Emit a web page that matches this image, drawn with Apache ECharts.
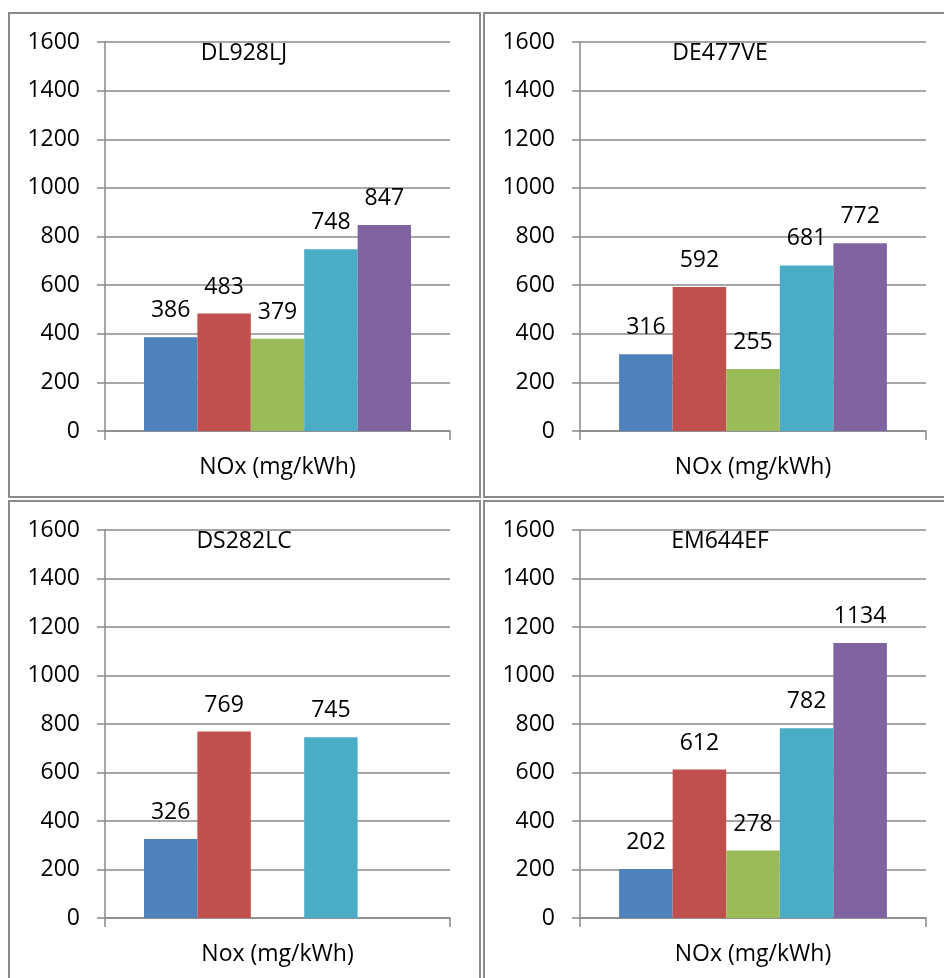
<!DOCTYPE html>
<html>
<head>
<meta charset="utf-8">
<script src="https://cdn.jsdelivr.net/npm/echarts@6/dist/echarts.min.js"></script>
<style>
html,body{margin:0;padding:0;background:#fff;}
#chart{width:944px;height:978px;}
</style>
</head>
<body>
<div id="chart"></div>
<script>
// ---- data ----
const panelTitles = ['DL928LJ', 'DE477VE', 'DS282LC', 'EM644EF'];
const categoryLabels = ['NOx (mg/kWh)', 'NOx (mg/kWh)', 'Nox (mg/kWh)', 'NOx (mg/kWh)'];
const seriesNames = ['Series 1', 'Series 2', 'Series 3', 'Series 4', 'Series 5'];
const valuesDL928LJ = [386, 483, 379, 748, 847];
const valuesDE477VE = [316, 592, 255, 681, 772];
const valuesDS282LC = [326, 769, null, 745, null];
const valuesEM644EF = [202, 612, 278, 782, 1134];
const yTicks = [0, 200, 400, 600, 800, 1000, 1200, 1400, 1600];

const panelValues = [valuesDL928LJ, valuesDE477VE, valuesDS282LC, valuesEM644EF];
const colors = ['#4F81BD', '#C0504D', '#9BBB59', '#4BACC6', '#8064A2'];
const FONT = '"Open Sans", sans-serif';
const gridPos = [
  {left: 105, top: 42, width: 345, height: 389},
  {left: 580, top: 42, width: 346, height: 389},
  {left: 105, top: 530, width: 345, height: 388},
  {left: 580, top: 530, width: 346, height: 388}
];
const panelBoxes = [
  {x: 9, y: 13, w: 471, h: 484},
  {x: 484, y: 13, w: 470, h: 484},
  {x: 9, y: 501, w: 471, h: 490},
  {x: 484, y: 501, w: 470, h: 490}
];
const titlePos = [[244, 53], [720, 53], [244, 541], [720, 541]];
const axisColor = '#8a8a8a';

const grids = [], xAxes = [], yAxes = [], series = [], graphics = [];
panelValues.forEach((vals, p) => {
  grids.push(Object.assign({containLabel: false}, gridPos[p]));
  xAxes.push({
    type: 'category', gridIndex: p, data: [categoryLabels[p]],
    boundaryGap: true,
    axisLine: {show: true, lineStyle: {color: axisColor, width: 1.5}},
    axisTick: {show: true, length: 9, lineStyle: {color: axisColor, width: 1.5}},
    axisLabel: {color: '#000', fontFamily: FONT, fontSize: 23, margin: 25}
  });
  yAxes.push({
    type: 'value', gridIndex: p, min: yTicks[0], max: yTicks[yTicks.length - 1],
    interval: yTicks[1] - yTicks[0],
    axisLine: {show: true, lineStyle: {color: axisColor, width: 1.5}},
    axisTick: {show: true, length: 8, lineStyle: {color: axisColor, width: 1.5}},
    splitLine: {show: true, lineStyle: {color: axisColor, width: 1.5}},
    axisLabel: {color: '#000', fontFamily: FONT, fontSize: 23, margin: 25,
                formatter: v => String(v)}
  });
  vals.forEach((v, s) => {
    series.push({
      type: 'bar', name: seriesNames[s], xAxisIndex: p, yAxisIndex: p,
      data: [v], barGap: '0%', barCategoryGap: '22.6%',
      itemStyle: {color: colors[s]},
      label: {show: v !== null, position: 'top', distance: 15, color: '#000',
               fontFamily: FONT, fontSize: 23},
      animation: false
    });
  });
  const b = panelBoxes[p];
  graphics.push({type: 'rect', shape: {x: b.x, y: b.y, width: b.w, height: b.h},
    style: {fill: null, stroke: axisColor, lineWidth: 2}, z: 0});
  graphics.push({type: 'text', x: titlePos[p][0], y: titlePos[p][1],
    style: {text: panelTitles[p], fill: '#000', font: '23px ' + FONT,
            align: 'center', verticalAlign: 'middle'}, z: 10});
});

const chart = echarts.init(document.getElementById('chart'), null, {renderer: 'canvas'});
chart.setOption({
  animation: false,
  grid: grids, xAxis: xAxes, yAxis: yAxes, series: series, graphic: graphics
});
</script>
</body>
</html>
